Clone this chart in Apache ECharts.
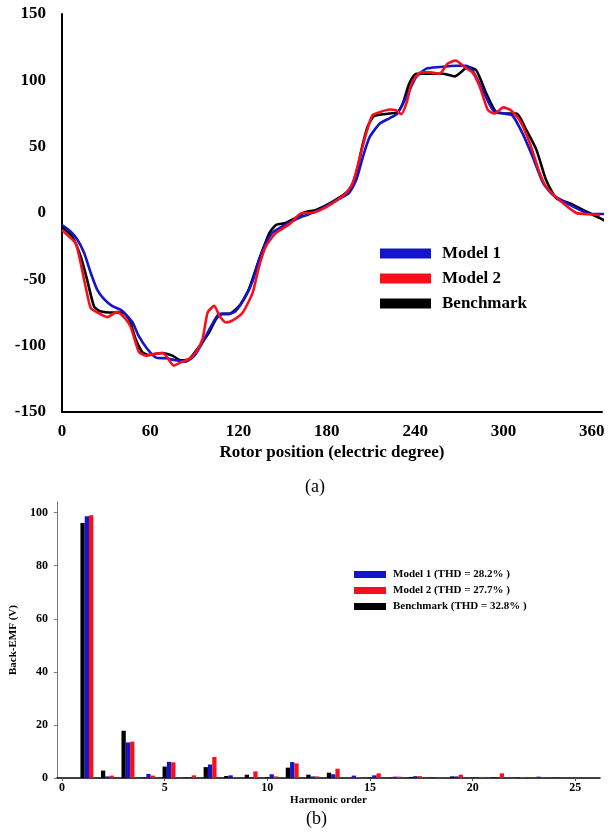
<!DOCTYPE html>
<html>
<head>
<meta charset="utf-8">
<script src="https://cdn.jsdelivr.net/npm/echarts@6/dist/echarts.min.js"></script>
<style>
  html, body { margin: 0; padding: 0; background: #fff; }
  #chart { width: 616px; height: 835px; }
</style>
</head>
<body>
<div id="chart"></div>
<script>
// (a) back-EMF waveform, [rotor position (deg), value]
const model1Wave = [[0,-9],[6,-14],[10.4,-20],[15,-30],[19.5,-45],[24,-58],[28.6,-65],[34,-70],[40,-73],[43,-76],[48,-82.5],[52,-92.5],[58,-102.5],[64,-109],[70.6,-109.5],[77,-111],[84,-112],[90,-107.5],[95.5,-97.5],[102,-84],[107,-76],[113.7,-76],[118,-74],[125,-62.5],[130,-50],[134,-35],[138.7,-22.5],[143,-15],[150,-10],[157,-6],[163.6,-2.5],[172.7,1],[184,8],[195,15],[200,25],[204.4,42],[209,57],[216,67.5],[222.6,71.4],[228,75],[234,87.5],[240.7,102.5],[247.6,108.8],[256.6,110],[268,111],[274.8,111],[279,107.5],[286,92.5],[293,77.4],[300,75],[306,73.7],[313,60],[320,42],[327,22.5],[333.7,13.5],[343,7.5],[352,2.3],[358.7,-0.8],[369,-0.8]];
const model2Wave = [[0,-12.8],[3.6,-16.5],[9.3,-22.7],[12.7,-37.8],[16,-55.4],[19.5,-71.6],[24,-75],[30.8,-78.5],[37.5,-74.5],[43.3,-80],[46.7,-86],[50,-97.5],[52.4,-105],[57,-107.5],[63.8,-106],[68.3,-105.5],[70.6,-107.5],[76,-115],[80.8,-112.5],[86.5,-110],[91,-105],[95.5,-95],[99,-75],[103.5,-70],[107,-77.5],[111.4,-82.5],[116,-81],[122.8,-75],[129.6,-60],[134,-40],[138.6,-25],[145.5,-15],[155,-8],[163,0],[168,0],[175,2],[184,7.5],[193,15],[197.6,22.5],[202,40],[206.7,60],[211,73.7],[216,76],[222.6,78],[227,77.5],[230.5,74.5],[234,82.5],[238,98.7],[244,106],[250,106],[256.6,105],[262,112.5],[267.5,115],[273.6,110],[279,106],[284,95],[289.5,77.5],[294,75],[300,79.6],[305,77.5],[311,70],[318,52.5],[324.7,30],[329,19.8],[338,9.8],[349.7,0],[358.7,-1],[365.6,-1.5]];
const benchmarkWave = [[0,-10.5],[7,-17.8],[12.7,-32.8],[17,-50],[21.8,-70.5],[26,-74],[34.5,-75],[41,-75],[45.6,-80],[50,-95],[54.7,-105],[59,-107],[68,-105.5],[75,-107.5],[80.8,-111],[86.5,-110],[93,-101],[100,-90],[104.6,-80],[109,-76],[113.7,-76],[120.5,-70],[127,-57.5],[134,-35],[141,-15],[145.5,-9],[152,-7.5],[160,-3],[165,0.5],[172.7,2.3],[184,8.5],[195,17],[200,30],[204,50],[207.7,65],[212,73],[222.6,75],[228,76],[231.6,82.5],[236,97.5],[240.7,105],[247.6,105],[258.8,105],[266.8,103],[276,110],[281.6,107.5],[288.4,90],[295,76],[302,75],[309,75],[315.6,62.4],[322.5,47.4],[329,24.8],[336,11],[345,7.4],[354,2.3],[365.6,-3.8],[372,-7.7]];
const waveTicks = [0, 60, 120, 180, 240, 300, 360];

// (b) harmonic spectrum of back-EMF (V)
const harmonicOrders = [1,2,3,4,5,6,7,8,9,10,11,12,13,14,15,16,17,18,19,20,21,22,23,24,25];
const benchmarkHarm = [96.1,2.8,17.8,0.2,4.3,0.1,4.1,0.75,1.25,0.3,3.9,1.25,2.0,0,0.2,0.1,0.4,0.1,0.6,0.1,0.2,0,0,0.1,0];
const model1Harm = [98.6,0.6,13.4,1.5,6.1,0.25,5.1,1.0,0.3,1.4,6.0,0.6,1.4,0.9,1.0,0.5,0.7,0.1,0.6,0.2,0.3,0.3,0.5,0.1,0];
const model2Harm = [99.0,0.9,13.7,0.9,5.9,1.0,7.9,0.1,2.5,0.6,5.5,0.6,3.5,0.3,1.75,0.5,0.7,0.4,1.25,0.4,1.75,0.3,0.2,0.2,0];
const harmTicks = [0, 5, 10, 15, 20, 25];
const emfTicks = [0, 20, 40, 60, 80, 100];

const SERIF = "'Liberation Serif', 'Times New Roman', serif";
const BLUE = '#1414c8';
const RED = '#f7101c';
const BLACK = '#000000';

const chart = echarts.init(document.getElementById('chart'));

const harmBars = (name, vals, shift, color, z) => ({
  name,
  type: 'bar',
  xAxisIndex: 1,
  yAxisIndex: 1,
  data: harmonicOrders.map((h, i) => [h + shift, vals[i]]),
  barWidth: 4.3,
  barGap: '-100%',
  itemStyle: { color },
  z,
});

const waveLine = (name, data, color, z) => ({
  name,
  type: 'line',
  data,
  smooth: 0.2,
  symbol: 'none',
  clip: false,
  lineStyle: { color, width: 2.6 },
  itemStyle: { color },
  z,
});

chart.setOption({
  animation: false,
  textStyle: { fontFamily: SERIF },
  grid: [
    { left: 62, right: 14, top: 14, height: 398 },
    { left: 55, right: 16, top: 502, height: 276 },
  ],
  legend: [
    {
      data: ['Model 1', 'Model 2', 'Benchmark'],
      orient: 'vertical',
      left: 375,
      top: 240,
      icon: 'rect',
      itemWidth: 51,
      itemHeight: 10,
      itemGap: 8,
      textStyle: { fontFamily: SERIF, fontWeight: 'bold', fontSize: 17, lineHeight: 17, color: '#000', padding: [0, 0, 0, 6] },
    },
    {
      data: ['Model 1 (THD = 28.2% )', 'Model 2 (THD = 27.7% )', 'Benchmark (THD = 32.8% )'],
      orient: 'vertical',
      left: 349,
      top: 564,
      icon: 'rect',
      itemWidth: 32,
      itemHeight: 7,
      itemGap: 5,
      textStyle: { fontFamily: SERIF, fontWeight: 'bold', fontSize: 11, lineHeight: 11, color: '#000', padding: [0, 0, 0, 2] },
    },
  ],
  xAxis: [
    {
      type: 'value',
      gridIndex: 0,
      min: 0,
      max: 367,
      splitLine: { show: false },
      axisLine: { onZero: false, lineStyle: { color: '#000', width: 2 } },
      axisTick: { show: false },
      axisLabel: { customValues: waveTicks, margin: 11, color: '#000', fontFamily: SERIF, fontWeight: 'bold', fontSize: 17 },
      name: 'Rotor position (electric degree)',
      nameLocation: 'middle',
      nameGap: 32,
      nameTextStyle: { color: '#000', fontFamily: SERIF, fontWeight: 'bold', fontSize: 17 },
    },
    {
      type: 'value',
      gridIndex: 1,
      min: -0.25,
      max: 26.2,
      splitLine: { show: false },
      axisLine: { onZero: false, lineStyle: { color: '#000', width: 1.5 } },
      axisTick: { customValues: harmTicks, length: 3, lineStyle: { color: '#555' } },
      axisLabel: { customValues: harmTicks, margin: 4, color: '#000', fontFamily: SERIF, fontWeight: 'bold', fontSize: 12 },
      name: 'Harmonic order',
      nameLocation: 'middle',
      nameGap: 17,
      nameTextStyle: { color: '#000', fontFamily: SERIF, fontWeight: 'bold', fontSize: 11 },
    },
  ],
  yAxis: [
    {
      type: 'value',
      gridIndex: 0,
      min: -150,
      max: 150,
      interval: 50,
      splitLine: { show: false },
      axisLine: { show: true, onZero: false, lineStyle: { color: '#000', width: 2 } },
      axisTick: { show: false },
      axisLabel: { margin: 16, color: '#000', fontFamily: SERIF, fontWeight: 'bold', fontSize: 17 },
    },
    {
      type: 'value',
      gridIndex: 1,
      min: 0,
      max: 104,
      splitLine: { show: false },
      axisLine: { show: true, onZero: false, lineStyle: { color: '#777', width: 1 } },
      axisTick: { customValues: emfTicks, length: 3, lineStyle: { color: '#777' } },
      axisLabel: { customValues: emfTicks, margin: 9, color: '#000', fontFamily: SERIF, fontWeight: 'bold', fontSize: 12 },
      name: 'Back-EMF (V)',
      nameLocation: 'middle',
      nameGap: 34,
      nameTextStyle: { color: '#000', fontFamily: SERIF, fontWeight: 'bold', fontSize: 11 },
    },
  ],
  graphic: [
    { type: 'text', left: 305, top: 478, style: { text: '(a)', font: "18px 'Liberation Serif', serif", fill: '#000' } },
    { type: 'text', left: 306, top: 810, style: { text: '(b)', font: "18px 'Liberation Serif', serif", fill: '#000' } },
  ],
  series: [
    waveLine('Benchmark', benchmarkWave, BLACK, 2),
    waveLine('Model 1', model1Wave, BLUE, 3),
    waveLine('Model 2', model2Wave, RED, 4),
    harmBars('Benchmark (THD = 32.8% )', benchmarkHarm, 0, BLACK, 2),
    harmBars('Model 1 (THD = 28.2% )', model1Harm, 0.21, BLUE, 3),
    harmBars('Model 2 (THD = 27.7% )', model2Harm, 0.42, RED, 4),
  ],
});
</script>
</body>
</html>
